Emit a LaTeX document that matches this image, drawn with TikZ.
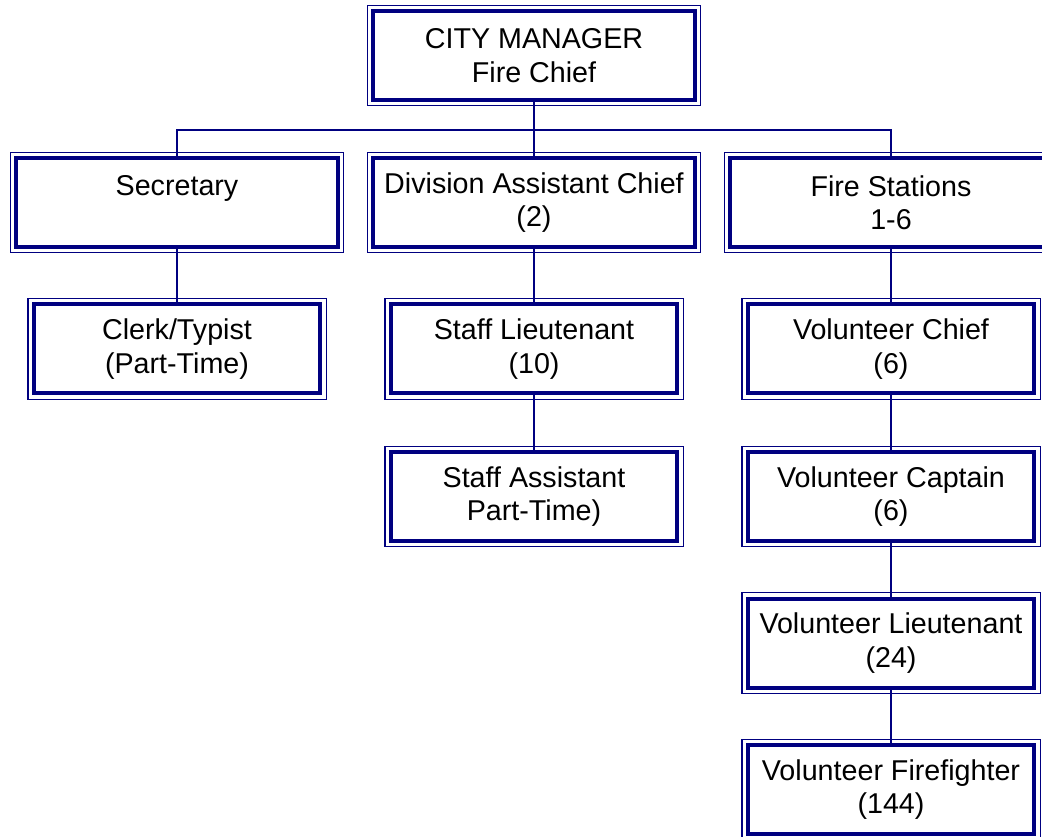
\documentclass[tikz,border=0pt]{standalone}
\usepackage{fontspec}
\setmainfont{Liberation Sans}
\usetikzlibrary{positioning,calc}
\definecolor{chart_navy}{HTML}{000080}
\tikzstyle{link} = [draw=chart_navy, line width=1.3pt]
\tikzstyle{rim} = [draw=chart_navy, line width=0.8pt]
\tikzstyle{post} = [rectangle, draw=chart_navy, line width=3pt, fill=white, outer sep=0pt, inner sep=0pt, text=black, align=center, minimum height=66.75pt, font=\fontsize{21.5}{25}\selectfont]
\tikzstyle{wide} = [post, minimum width=241.5pt]
\tikzstyle{narrow} = [post, minimum width=215pt]

\begin{document}
\begin{tikzpicture}[x=0.75pt, y=-0.75pt]
   \useasboundingbox (0,0) rectangle (1042,837);
   \clip (0,0) rectangle (1042,837);

   % Top
   \node at (534, 55.5) [wide] (city manager) {CITY MANAGER\\Fire Chief};

   % Second row
   \node at (177, 202.5) [wide] (secretary) {Secretary\\\mbox{}};
   \node at (534, 202.5) [wide] (division) {Division Assistant Chief\\(2)};
   \node at (891, 202.5) [wide] (fire stations) {Fire Stations\\1-6};

   % Secretary
   \node at (177, 349) [narrow] (clerk) {Clerk/Typist\\(Part-Time)};

   % Division
   \node at (534, 349) [narrow] (staff lt) {Staff Lieutenant\\(10)};
   \node at (534, 496.5) [narrow] (staff asst) {Staff Assistant\\Part-Time)};

   % Fire stations
   \node at (891, 349) [narrow] (vol chief) {Volunteer Chief\\(6)};
   \node at (891, 496.5) [narrow] (vol captain) {Volunteer Captain\\(6)};
   \node at (891, 643) [narrow] (vol lt) {Volunteer Lieutenant\\(24)};
   \node at (891, 789.5) [narrow] (vol ff) {Volunteer Firefighter\\(144)};

   % outer thin border
   \foreach \n in {city manager, secretary, division, fire stations, clerk, staff lt, staff asst, vol chief, vol captain, vol lt, vol ff}
      \draw [rim] ([shift={(-5.7,-5.7)}]\n.north west) rectangle ([shift={(5.7,5.7)}]\n.south east);

   % Lines
   \coordinate (bus) at (534, 130);
   \path [link] (city manager) -- (bus);
   \path [link] (secretary.north) |- (bus) -| (fire stations.north);
   \path [link] (bus) -- (division);
   \path [link] (secretary) -- (clerk);
   \path [link] (division) -- (staff lt);
   \path [link] (staff lt) -- (staff asst);
   \path [link] (fire stations) -- (vol chief);
   \path [link] (vol chief) -- (vol captain);
   \path [link] (vol captain) -- (vol lt);
   \path [link] (vol lt) -- (vol ff);

\end{tikzpicture}
\end{document}
